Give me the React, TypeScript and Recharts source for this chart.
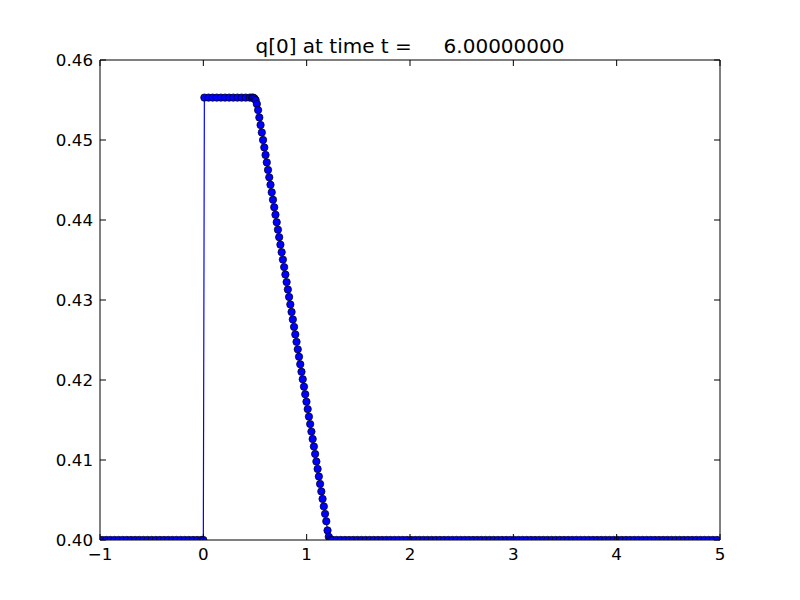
import React from "react";
import {
  LineChart,
  Line,
  XAxis,
  YAxis,
  ReferenceLine,
} from "recharts";

// solution values
const lowQ = 0.4;
const highQ = 0.4553;

const leftX = [
  -0.98, -0.94, -0.9, -0.86, -0.82, -0.78, -0.74, -0.7, -0.66, -0.62, -0.58,
  -0.54, -0.5, -0.46, -0.42, -0.38, -0.34, -0.3, -0.26, -0.22, -0.18, -0.14,
  -0.1, -0.06, -0.02, 0.0,
];

const plateauX = [0.01, 0.05, 0.09, 0.13, 0.17, 0.21, 0.25, 0.29, 0.33, 0.37, 0.41, 0.45];

const rampX = [
  0.47, 0.482, 0.494, 0.506, 0.518, 0.53, 0.542, 0.554, 0.566, 0.578, 0.59,
  0.602, 0.614, 0.626, 0.638, 0.65, 0.662, 0.674, 0.686, 0.698, 0.71, 0.722,
  0.734, 0.746, 0.758, 0.77, 0.782, 0.794, 0.806, 0.818, 0.83, 0.842, 0.854,
  0.866, 0.878, 0.89, 0.902, 0.914, 0.926, 0.938, 0.95, 0.962, 0.974, 0.986,
  0.998, 1.01, 1.022, 1.034, 1.046, 1.058, 1.07, 1.082, 1.094, 1.106, 1.118,
  1.13, 1.142, 1.154, 1.166, 1.178, 1.19, 1.202, 1.214, 1.226, 1.238, 1.25,
];

const rampQ = [
  0.4553, 0.4553, 0.4552, 0.455, 0.4545, 0.45374, 0.45281, 0.45187, 0.45094,
  0.45, 0.44907, 0.44813, 0.4472, 0.44626, 0.44533, 0.4444, 0.44346, 0.44253,
  0.44159, 0.44066, 0.43972, 0.43879, 0.43785, 0.43692, 0.43598, 0.43505,
  0.43411, 0.43318, 0.43224, 0.43131, 0.43038, 0.42944, 0.42851, 0.42757,
  0.42664, 0.4257, 0.42477, 0.42383, 0.4229, 0.42196, 0.42103, 0.42009,
  0.41916, 0.41822, 0.41729, 0.41636, 0.41542, 0.41449, 0.41355, 0.41262,
  0.41168, 0.41075, 0.40981, 0.40888, 0.40794, 0.40701, 0.40607, 0.40514,
  0.4042, 0.40327, 0.40234, 0.4012, 0.4004, 0.4001, 0.4, 0.4,
];

const rightX = [
  1.29, 1.33, 1.37, 1.41, 1.45, 1.49, 1.53, 1.57, 1.61, 1.65, 1.69, 1.73,
  1.77, 1.81, 1.85, 1.89, 1.93, 1.97, 2.01, 2.05, 2.09, 2.13, 2.17, 2.21,
  2.25, 2.29, 2.33, 2.37, 2.41, 2.45, 2.49, 2.53, 2.57, 2.61, 2.65, 2.69,
  2.73, 2.77, 2.81, 2.85, 2.89, 2.93, 2.97, 3.01, 3.05, 3.09, 3.13, 3.17,
  3.21, 3.25, 3.29, 3.33, 3.37, 3.41, 3.45, 3.49, 3.53, 3.57, 3.61, 3.65,
  3.69, 3.73, 3.77, 3.81, 3.85, 3.89, 3.93, 3.97, 4.01, 4.05, 4.09, 4.13,
  4.17, 4.21, 4.25, 4.29, 4.33, 4.37, 4.41, 4.45, 4.49, 4.53, 4.57, 4.61,
  4.65, 4.69, 4.73, 4.77, 4.81, 4.85, 4.89, 4.93, 4.97,
];

const xTicks = [-1, 0, 1, 2, 3, 4, 5];
const yTicks = [0.4, 0.41, 0.42, 0.43, 0.44, 0.45, 0.46];

const data = [
  ...leftX.map((x) => ({ x, q: lowQ })),
  ...plateauX.map((x) => ({ x, q: highQ })),
  ...rampX.map((x, i) => ({ x, q: rampQ[i] })),
  ...rightX.map((x) => ({ x, q: lowQ })),
];

const FONT = "'DejaVu Sans', sans-serif";
const PLOT_W = 620;
const PLOT_H = 480;
const TICK = 6;

const XTick = (props: any) => {
  const { x, y, payload } = props;
  const v = payload.value as number;
  const label = v < 0 ? `\u2212${Math.abs(v)}` : `${v}`;
  return (
    <g>
      <line x1={x} y1={y} x2={x} y2={y - TICK} stroke="#000" />
      <line x1={x} y1={y - PLOT_H} x2={x} y2={y - PLOT_H + TICK} stroke="#000" />
      <text
        x={x}
        y={y + 20}
        textAnchor="middle"
        fontFamily={FONT}
        fontSize={16.7}
        fill="#000"
      >
        {label}
      </text>
    </g>
  );
};

const YTick = (props: any) => {
  const { x, y, payload } = props;
  return (
    <g>
      <line x1={x} y1={y} x2={x + TICK} y2={y} stroke="#000" />
      <line x1={x + PLOT_W} y1={y} x2={x + PLOT_W - TICK} y2={y} stroke="#000" />
      <text
        x={x - 7}
        y={y + 6}
        textAnchor="end"
        fontFamily={FONT}
        fontSize={16.7}
        fill="#000"
      >
        {(payload.value as number).toFixed(2)}
      </text>
    </g>
  );
};

const App: React.FC = () => {
  return (
    <div
      style={{
        position: "absolute",
        left: 0,
        top: 0,
        width: 800,
        height: 600,
        background: "#fff",
      }}
    >
      <div
        style={{
          position: "absolute",
          left: 0,
          top: 36,
          width: 820,
          textAlign: "center",
          fontFamily: FONT,
          fontSize: 20,
          lineHeight: "20px",
          whiteSpace: "pre",
          color: "#000",
        }}
      >
        {"q[0] at time t =     6.00000000"}
      </div>
      <LineChart
        width={800}
        height={600}
        data={data}
        margin={{ top: 60, right: 80, bottom: 30, left: 40 }}
      >
        <XAxis
          dataKey="x"
          type="number"
          domain={[-1, 5]}
          ticks={xTicks}
          allowDataOverflow
          height={30}
          tickSize={0}
          tickMargin={0}
          tickLine={false}
          axisLine={{ stroke: "#000" }}
          tick={<XTick />}
          interval={0}
        />
        <YAxis
          type="number"
          domain={[0.4, 0.46]}
          ticks={yTicks}
          allowDataOverflow
          width={60}
          tickSize={0}
          tickMargin={0}
          tickLine={false}
          axisLine={{ stroke: "#000" }}
          tick={<YTick />}
          interval={0}
        />
        <Line
          dataKey="q"
          stroke="#0000ff"
          strokeWidth={1.2}
          dot={{ r: 3.7, fill: "#0000ff", stroke: "#000", strokeWidth: 0.7 }}
          isAnimationActive={false}
        />
        <ReferenceLine y={0.46} stroke="#000" />
        <ReferenceLine x={5} stroke="#000" />
      </LineChart>
    </div>
  );
};

export default App;
